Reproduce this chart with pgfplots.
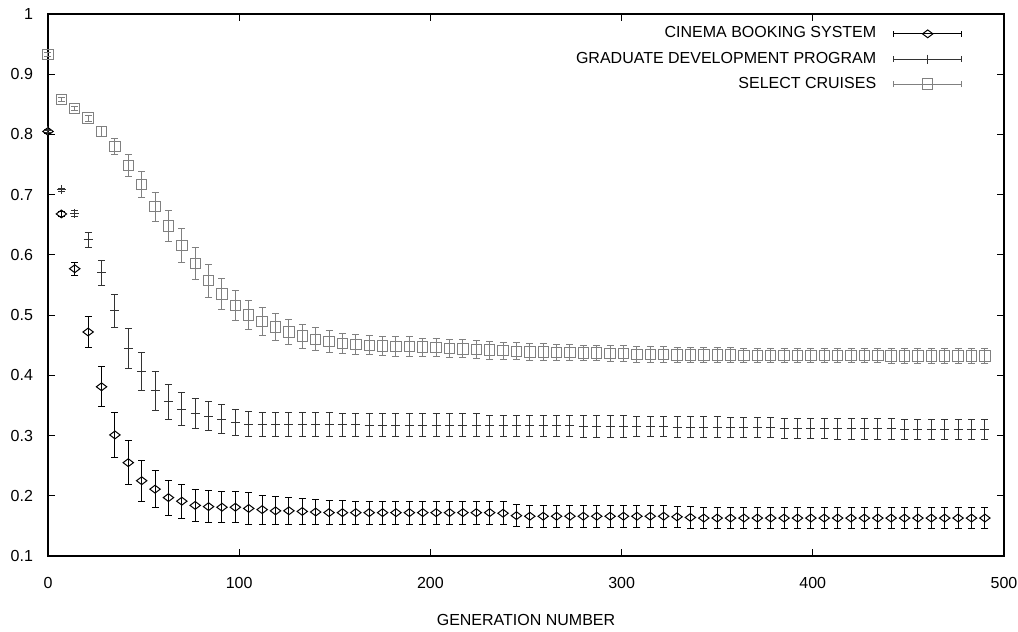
\documentclass[border=0pt]{standalone}
\usepackage{pgfplots}
\pgfplotsset{compat=1.18}
\usepackage{pgfplotstable}
\usepackage{fontspec}
\setmainfont{Liberation Sans}
\definecolor{sqgray}{gray}{0.5}
\definecolor{crgray}{gray}{0.2}

\pgfplotstableread{
x c ce g ge s se
0 0.805 0.003 0.806 0.003 0.933 0.003
7 0.668 0.004 0.708 0.003 0.858 0.003
14 0.577 0.011 0.669 0.005 0.843 0.004
21 0.472 0.026 0.625 0.012 0.827 0.005
28 0.381 0.033 0.570 0.021 0.805 0.008
35 0.301 0.037 0.507 0.028 0.780 0.013
42 0.255 0.036 0.445 0.033 0.748 0.018
49 0.225 0.034 0.406 0.032 0.717 0.021
56 0.211 0.031 0.374 0.032 0.680 0.024
63 0.197 0.029 0.356 0.029 0.648 0.026
70 0.191 0.028 0.344 0.027 0.616 0.028
77 0.184 0.027 0.337 0.025 0.586 0.027
84 0.182 0.026 0.332 0.024 0.557 0.027
91 0.181 0.026 0.327 0.024 0.535 0.026
98 0.181 0.026 0.322 0.022 0.516 0.025
105 0.179 0.026 0.319 0.021 0.500 0.024
112 0.177 0.024 0.318 0.020 0.489 0.023
119 0.175 0.023 0.318 0.020 0.480 0.022
126 0.175 0.022 0.318 0.020 0.472 0.021
133 0.174 0.021 0.318 0.020 0.465 0.020
140 0.173 0.021 0.318 0.020 0.460 0.019
147 0.172 0.020 0.318 0.020 0.456 0.018
154 0.172 0.020 0.318 0.019 0.453 0.017
161 0.172 0.019 0.318 0.019 0.451 0.017
168 0.172 0.019 0.317 0.019 0.450 0.016
175 0.172 0.019 0.317 0.019 0.449 0.016
182 0.172 0.019 0.317 0.019 0.448 0.016
189 0.172 0.019 0.317 0.019 0.448 0.016
196 0.172 0.019 0.317 0.019 0.447 0.015
203 0.172 0.019 0.317 0.019 0.446 0.015
210 0.172 0.019 0.317 0.019 0.445 0.015
217 0.172 0.019 0.317 0.019 0.444 0.015
224 0.172 0.019 0.317 0.019 0.443 0.015
231 0.172 0.019 0.316 0.018 0.442 0.015
238 0.171 0.019 0.316 0.018 0.441 0.014
245 0.167 0.018 0.316 0.018 0.440 0.014
252 0.166 0.018 0.316 0.018 0.439 0.014
259 0.166 0.018 0.316 0.018 0.439 0.014
266 0.166 0.018 0.316 0.018 0.438 0.014
273 0.166 0.018 0.316 0.018 0.438 0.013
280 0.166 0.018 0.315 0.018 0.437 0.013
287 0.166 0.018 0.315 0.018 0.437 0.013
294 0.166 0.018 0.315 0.018 0.436 0.013
301 0.166 0.018 0.315 0.018 0.436 0.013
308 0.166 0.018 0.315 0.017 0.435 0.013
315 0.166 0.018 0.315 0.017 0.435 0.013
322 0.166 0.018 0.315 0.017 0.435 0.013
329 0.165 0.018 0.314 0.017 0.434 0.012
336 0.164 0.018 0.314 0.017 0.434 0.012
343 0.163 0.018 0.314 0.017 0.434 0.012
350 0.163 0.018 0.314 0.017 0.434 0.012
357 0.163 0.018 0.313 0.017 0.434 0.012
364 0.163 0.018 0.313 0.017 0.433 0.012
371 0.163 0.018 0.313 0.017 0.433 0.012
378 0.163 0.018 0.313 0.017 0.433 0.012
385 0.163 0.018 0.312 0.017 0.433 0.012
392 0.163 0.018 0.312 0.017 0.433 0.012
399 0.163 0.018 0.312 0.017 0.433 0.012
406 0.163 0.018 0.312 0.017 0.433 0.012
413 0.163 0.018 0.311 0.017 0.433 0.012
420 0.163 0.018 0.311 0.017 0.433 0.012
427 0.163 0.018 0.311 0.017 0.433 0.012
434 0.163 0.018 0.311 0.017 0.433 0.012
441 0.163 0.018 0.311 0.017 0.432 0.012
448 0.163 0.018 0.310 0.017 0.432 0.012
455 0.163 0.018 0.310 0.017 0.432 0.012
462 0.163 0.018 0.310 0.017 0.432 0.012
469 0.163 0.018 0.310 0.017 0.432 0.012
476 0.163 0.018 0.310 0.017 0.432 0.012
483 0.163 0.018 0.310 0.017 0.432 0.012
490 0.163 0.018 0.310 0.017 0.432 0.012
}\data

\begin{document}
\begin{tikzpicture}
\begin{axis}[
  at={(0,0)}, anchor=south west,
  scale only axis, width=478pt, height=271pt,
  xmin=0, xmax=500, ymin=0.1, ymax=1,
  xtick={0,100,200,300,400,500},
  ytick={0.1,0.2,0.3,0.4,0.5,0.6,0.7,0.8,0.9,1},
  yticklabel style={/pgf/number format/fixed, /pgf/number format/precision=1, xshift=-4pt},
  /pgf/number format/assume math mode=true,
  tick label style={font=\fontsize{8}{9.6}\selectfont},
  xticklabel style={yshift=-7pt},
  major tick length=3.5pt,
  tick pos=both,
  every tick/.style={black, line width=0.5pt},
  axis line style={line width=0.6pt},
  clip=false,
  xlabel={GENERATION NUMBER},
  every axis x label/.style={at={(axis description cs:0.5,0)}, anchor=north, yshift=-25.5pt, font=\fontsize{8}{9.6}\selectfont},
  legend plot pos=right,
  legend cell align=right,
  legend style={draw=none, fill=none, at={(axis description cs:0.963,0.992)}, anchor=north east,
    font=\fontsize{8}{9.6}\selectfont, row sep=1.5pt},
  legend image code/.code={
    \path (0pt,0pt);
    \draw[#1] (6.5pt,0pt) -- (40.5pt,0pt);
    \draw[#1] (6.5pt,-1.5pt) -- (6.5pt,1.5pt);
    \draw[#1] (40.5pt,-1.5pt) -- (40.5pt,1.5pt);
    \draw[#1] plot[only marks] coordinates {(23.5pt,0pt)};
  },
]
\addplot[black, line width=0.5pt, only marks, mark=diamond, mark size=2.6pt,
  mark options={rotate=90, solid},
  error bars/.cd, y dir=both, y explicit,
  error bar style={black, line width=0.5pt},
  error mark options={rotate=90, mark size=1.75pt, line width=0.5pt}]
  table[x=x, y=c, y error=ce] {\data};
\addlegendentry{CINEMA BOOKING SYSTEM}
\addplot[crgray, line width=0.5pt, only marks, mark=+, mark size=2.25pt,
  error bars/.cd, y dir=both, y explicit,
  error bar style={crgray, line width=0.5pt},
  error mark options={rotate=90, mark size=1.75pt, line width=0.5pt}]
  table[x=x, y=g, y error=ge] {\data};
\addlegendentry{GRADUATE DEVELOPMENT PROGRAM}
\addplot[sqgray, line width=0.5pt, only marks, mark=square, mark size=2.6pt,
  error bars/.cd, y dir=both, y explicit,
  error bar style={sqgray, line width=0.5pt},
  error mark options={rotate=90, mark size=1.75pt, line width=0.5pt}]
  table[x=x, y=s, y error=se] {\data};
\addlegendentry{SELECT CRUISES}
\end{axis}
\pgfresetboundingbox
\path[use as bounding box] (-24pt,-38pt) rectangle (485pt,278pt);
\end{tikzpicture}
\end{document}
